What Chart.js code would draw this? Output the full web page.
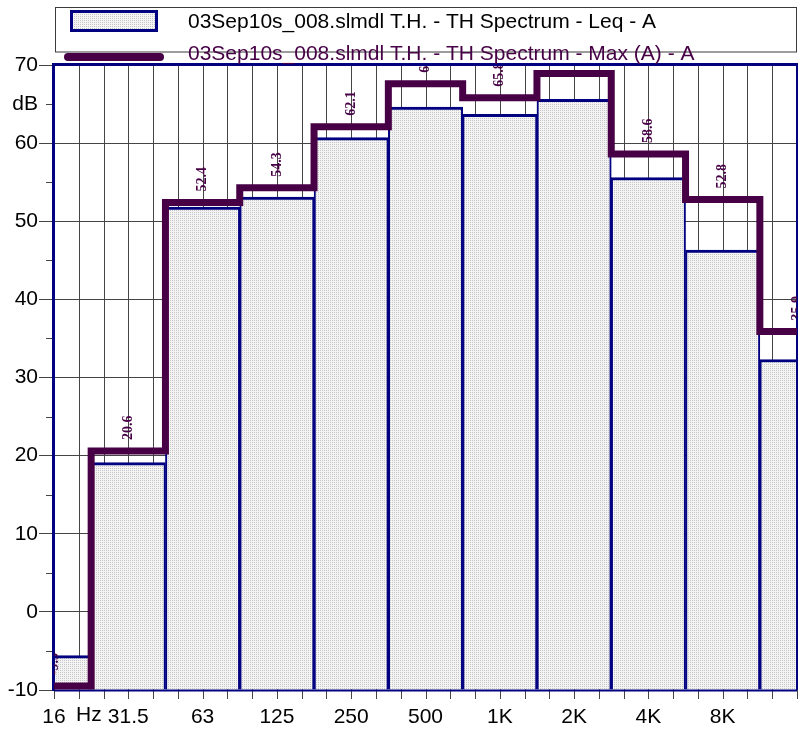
<!DOCTYPE html>
<html>
<head>
<meta charset="utf-8">
<script src="https://cdn.jsdelivr.net/npm/chart.js@4.4.1/dist/chart.umd.min.js"></script>
<style>
  html, body { margin: 0; padding: 0; background: #fff; }
  #wrap { width: 803px; height: 731px; }
</style>
</head>
<body>
<div id="wrap"><canvas id="c" width="803" height="731"></canvas></div>
<script>
// Octave band centres (the last band sits on the right edge and carries no label)
const bands = ['16', '31.5', '63', '125', '250', '500', '1K', '2K', '4K', '8K', '16K'];
// Leq per band, dB(A)
const leqA = [-5.6, 19.1, 51.8, 53.1, 60.7, 64.6, 63.7, 65.6, 55.6, 46.3, 32.3];
// Max (A) per band, dB(A)
const maxA = [-9.5, 20.6, 52.4, 54.3, 62.1, 67.6, 65.8, 68.9, 58.6, 52.8, 35.9];
// Series names
const seriesNames = [
  '03Sep10s_008.slmdl T.H. - TH Spectrum - Leq - A',
  '03Sep10s_008.slmdl T.H. - TH Spectrum - Max (A) - A'
];
// Value axis range and unit label
const yMin = -10, yMax = 70, yUnit = 'dB', yUnitAt = 65;

const NAVY = '#000080';
const PURPLE = '#470046';
const GRID = '#454545';
const SANS = '"Liberation Sans", Arial, sans-serif';
const SERIF = '"Liberation Serif", "Times New Roman", serif';

const canvas = document.getElementById('c');
const ctx = canvas.getContext('2d');

// fine dotted fill used by the Leq bars
function dotPattern(c) {
  const t = document.createElement('canvas');
  t.width = 2; t.height = 2;
  const g = t.getContext('2d');
  g.fillStyle = '#f4f4f4'; g.fillRect(0, 0, 2, 2);
  g.fillStyle = '#c6c6c6'; g.fillRect(0, 0, 1, 1);
  return c.createPattern(t, 'repeat');
}
const dots = dotPattern(ctx);

const decor = {
  id: 'decor',
  beforeDatasetsDraw(chart) {
    const { ctx, chartArea: a, scales: { x, y } } = chart;
    ctx.save();
    ctx.strokeStyle = GRID;
    ctx.lineWidth = 1;
    // third-octave vertical grid and x tick marks
    const n = (bands.length - 1) * 3;
    for (let k = 0; k <= n; k++) {
      const px = Math.round(x.getPixelForValue(k / 3)) + 0.5;
      ctx.beginPath();
      if (k > 0 && k < n) { ctx.moveTo(px, a.top); ctx.lineTo(px, a.bottom); }
      ctx.moveTo(px, a.bottom); ctx.lineTo(px, a.bottom + 9);
      ctx.stroke();
    }
    // minor y tick marks
    for (let v = yMin + 5; v < yMax; v += 10) {
      const py = Math.round(y.getPixelForValue(v)) + 0.5;
      ctx.beginPath(); ctx.moveTo(a.left - 8, py); ctx.lineTo(a.left, py); ctx.stroke();
    }
    // unit next to the first band label
    ctx.fillStyle = '#000';
    ctx.font = '21px ' + SANS;
    ctx.textAlign = 'center';
    ctx.textBaseline = 'top';
    ctx.fillText('Hz', x.getPixelForValue(0.47), x.top + 9 + 6);
    ctx.restore();
  },
  afterDatasetDraw(chart, args) {
    if (args.meta.type !== 'bar') return;
    // plot frame, drawn over the bars and under the Max trace
    const { ctx, chartArea: a } = chart;
    ctx.save();
    ctx.strokeStyle = NAVY;
    ctx.lineWidth = 2;
    ctx.beginPath(); ctx.moveTo(a.left, a.bottom + 0.5); ctx.lineTo(a.right, a.bottom + 0.5); ctx.stroke();
    ctx.beginPath(); ctx.moveTo(a.right, a.top); ctx.lineTo(a.right, a.bottom); ctx.stroke();
    ctx.lineWidth = 3;
    ctx.beginPath(); ctx.moveTo(a.left - 0.5, a.bottom + 1); ctx.lineTo(a.left - 0.5, a.top - 0.5); ctx.lineTo(a.right + 1, a.top - 0.5); ctx.stroke();
    ctx.restore();
  },
  afterDatasetsDraw(chart) {
    // Max values written vertically above each step
    const { ctx, chartArea: a, scales: { x, y } } = chart;
    ctx.save();
    ctx.beginPath(); ctx.rect(a.left, a.top + 1, a.right - a.left, a.bottom - a.top); ctx.clip();
    ctx.fillStyle = PURPLE;
    ctx.font = 'bold 14px ' + SERIF;
    ctx.textAlign = 'left';
    ctx.textBaseline = 'middle';
    maxA.forEach((v, i) => {
      ctx.save();
      ctx.translate(x.getPixelForValue(i), y.getPixelForValue(v) - 11);
      ctx.rotate(-Math.PI / 2);
      ctx.fillText(v.toFixed(1), 0, 0);
      ctx.restore();
    });
    ctx.restore();
  },
  afterDraw(chart) {
    // legend box
    const { ctx } = chart;
    ctx.save();
    ctx.strokeStyle = '#3a3a3a';
    ctx.lineWidth = 1;
    ctx.strokeRect(55.5, 7.5, 741, 44.5);
    ctx.fillStyle = dots;
    ctx.fillRect(70, 10, 88, 22);
    ctx.strokeStyle = NAVY;
    ctx.lineWidth = 3;
    ctx.strokeRect(71.5, 11.5, 85, 19);
    ctx.strokeStyle = PURPLE;
    ctx.lineWidth = 8;
    ctx.lineCap = 'round';
    ctx.beginPath(); ctx.moveTo(68, 57); ctx.lineTo(160, 57); ctx.stroke();
    ctx.font = '21px ' + SANS;
    ctx.textAlign = 'left';
    ctx.textBaseline = 'alphabetic';
    ctx.fillStyle = '#000';
    ctx.fillText(seriesNames[0], 188, 27.5);
    ctx.fillStyle = PURPLE;
    ctx.fillText(seriesNames[1], 188, 60);
    ctx.restore();
  }
};

new Chart(ctx, {
  type: 'bar',
  data: {
    labels: bands,
    datasets: [
      {
        type: 'line',
        label: seriesNames[1],
        data: maxA,
        borderColor: PURPLE,
        borderWidth: 7,
        stepped: 'middle',
        pointRadius: 0,
        fill: false,
        clip: 0,
        order: 0,
        borderJoinStyle: 'miter',
        borderCapStyle: 'butt'
      },
      {
        type: 'bar',
        label: seriesNames[0],
        data: leqA,
        base: yMin,
        backgroundColor: dots,
        borderColor: NAVY,
        borderWidth: { top: 3, left: 2, right: 2, bottom: 0 },
        borderSkipped: 'bottom',
        barPercentage: 1,
        categoryPercentage: 1,
        clip: 0,
        order: 1
      }
    ]
  },
  options: {
    responsive: false,
    animation: false,
    events: [],
    layout: { padding: { top: 65, right: 6, left: 0, bottom: 0 } },
    plugins: { legend: { display: false }, tooltip: { enabled: false } },
    scales: {
      x: {
        offset: false,
        grid: { display: false, drawTicks: true, tickLength: 9 },
        border: { display: false },
        ticks: {
          autoSkip: false, maxRotation: 0, minRotation: 0, padding: 6, color: '#000',
          font: { family: SANS, size: 21 },
          callback: (v, i) => (i === bands.length - 1 ? '' : bands[i])
        },
        afterFit(s) { s.height = 41; }
      },
      y: {
        min: yMin, max: yMax,
        grid: {
          lineWidth: 1,
          tickLength: 15,
          color: c => (c.tick && c.tick.value % 10 === 0 ? GRID : 'rgba(0,0,0,0)'),
          tickColor: c => (c.tick && c.tick.value % 10 === 0 ? GRID : 'rgba(0,0,0,0)')
        },
        border: { display: false },
        ticks: {
          stepSize: 5, autoSkip: false, padding: 1, color: '#000',
          font: { family: SANS, size: 21 },
          callback: v => (v % 10 === 0 ? String(v) : (v === yUnitAt ? yUnit : ''))
        },
        afterFit(s) { s.width = 54; }
      }
    }
  },
  plugins: [decor]
});
</script>
</body>
</html>
